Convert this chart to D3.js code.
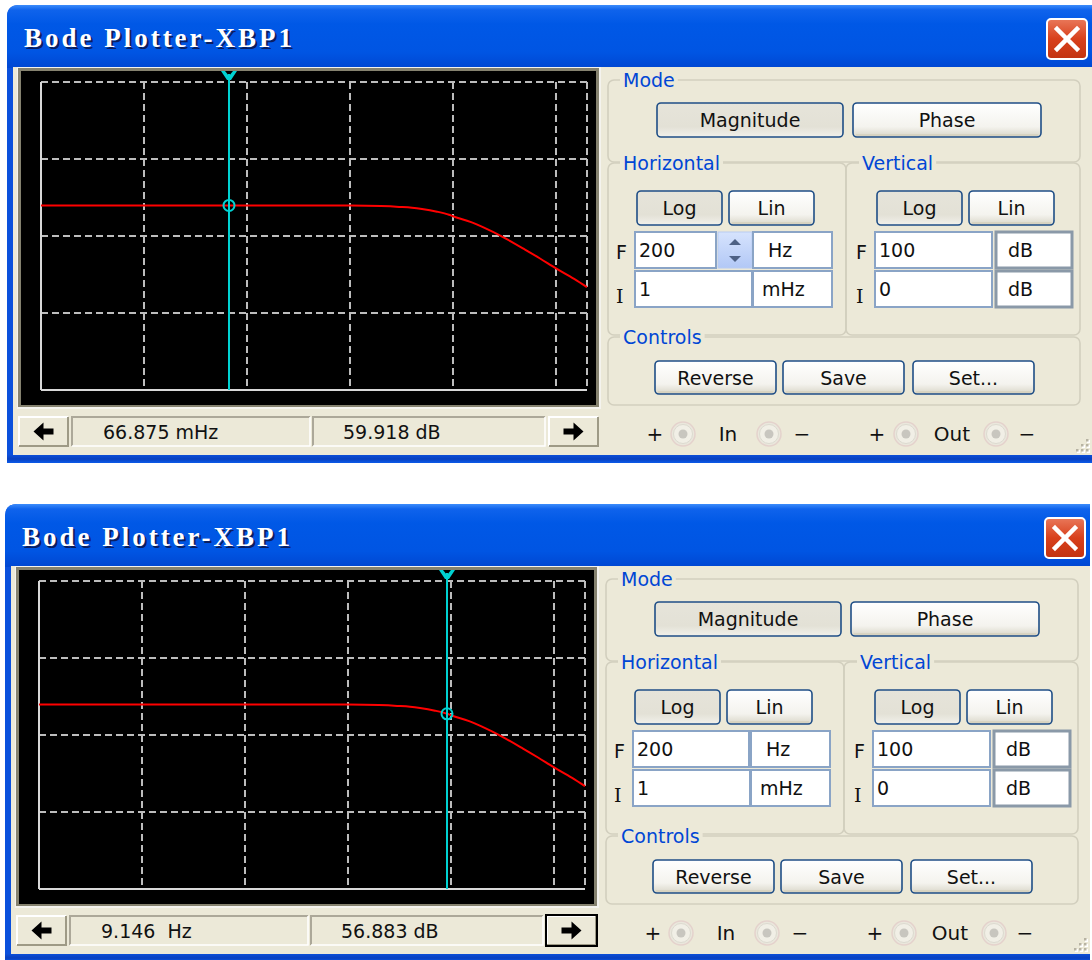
<!DOCTYPE html>
<html>
<head>
<meta charset="utf-8">
<script src="https://cdn.jsdelivr.net/npm/d3@7"></script>
<style>
  html, body { margin: 0; padding: 0; background: #ffffff; }
  svg { display: block; }
</style>
</head>
<body>
<svg id="chart" width="1092" height="960"></svg>
<script>
// ---------------- data ----------------
const titleText = "Bode Plotter-XBP1";
// magnitude response (Hz, dB)
const freqHz = [0.001, 0.01, 0.1, 1, 2, 3, 4, 5, 7, 9.146, 10, 15, 20, 30, 50, 70, 100, 150, 200];
const magDb  = [59.92, 59.92, 59.92, 59.87, 59.7, 59.45, 59.2, 58.8, 57.9, 56.88, 56.4, 54.5, 52.7, 49.8, 45.6, 42.7, 39.5, 36.1, 33.4];
// axis settings
const freqDomain = [0.001, 200];      // I = 1 mHz, F = 200 Hz
const dbDomain = [0, 100];            // I = 0 dB, F = 100 dB
const xGridFreqs = [0.01, 0.1, 1, 10, 100];
const yGridDb = [25, 50, 75];
// the two screenshots: cursor positions and readouts
const cursorFreqs = [0.066875, 9.146];
const cursorDb = [59.918, 56.883];
const readoutFreq = ["66.875 mHz", "9.146  Hz"];
const readoutDb = ["59.918 dB", "56.883 dB"];
const showSpinner = [true, false];
const focusRight = [false, true];
const windowOffsets = [[0, 0], [-2, 499]];
// control labels
const modeLabels = ["Magnitude", "Phase"];
const scaleLabels = ["Log", "Lin"];
const controlLabels = ["Reverse", "Save", "Set..."];
const hInputs = { F: "200", I: "1", Funit: "Hz", Iunit: "mHz" };
const vInputs = { F: "100", I: "0", Funit: "dB", Iunit: "dB" };

// ---------------- drawing ----------------
const svg = d3.select("#chart");
const defs = svg.append("defs");

function grad(id, stops, vertical = true) {
  const g = defs.append("linearGradient").attr("id", id)
    .attr("x1", 0).attr("y1", 0).attr("x2", vertical ? 0 : 1).attr("y2", vertical ? 1 : 0);
  stops.forEach(([o, c]) => g.append("stop").attr("offset", o).attr("stop-color", c));
}
grad("titleGrad", [[0, "#3C8CFB"], [0.08, "#0F63EC"], [0.3, "#0058E6"], [0.75, "#0055E3"], [1, "#0047D2"]]);
grad("btnNormal", [[0, "#FFFFFF"], [0.7, "#F4F3EE"], [1, "#D9D6C8"]]);
grad("btnPressed", [[0, "#E6E4DA"], [0.7, "#E3E1D6"], [1, "#F2F1EB"]]);
grad("closeGrad", [[0, "#E9785A"], [0.5, "#D8401C"], [1, "#C23310"]]);
grad("spinGrad", [[0, "#D6E3FD"], [1, "#B2C8F6"]]);
grad("bottomBlue", [[0, "#0C4FD8"], [0.5, "#0840C0"], [1, "#0B5BEA"]]);

const uiFont = "'DejaVu Sans', Verdana, sans-serif";
const titleFont = "'Liberation Serif', 'DejaVu Serif', serif";

function xpButton(g, x, y, w, h, label, pressed) {
  g.append("rect").attr("x", x).attr("y", y).attr("width", w).attr("height", h)
    .attr("rx", 4).attr("fill", pressed ? "url(#btnPressed)" : "url(#btnNormal)")
    .attr("stroke", "#1F4E86").attr("stroke-width", 1.6);
  if (!pressed) {
    g.append("line").attr("x1", x + 3).attr("x2", x + w - 3).attr("y1", y + h - 2).attr("y2", y + h - 2)
      .attr("stroke", "#D6D0BC").attr("stroke-width", 1.5);
  }
  g.append("text").attr("x", x + w / 2).attr("y", y + h / 2 + 7)
    .attr("text-anchor", "middle").attr("font-family", uiFont).attr("font-size", 19)
    .attr("fill", "#111").text(label);
}

function groupBox(g, x, y, w, h, label, labelX) {
  g.append("rect").attr("x", x).attr("y", y).attr("width", w).attr("height", h)
    .attr("rx", 6).attr("fill", "none").attr("stroke", "#D2CFBE").attr("stroke-width", 1.6);
  const t = g.append("text").attr("x", labelX).attr("y", y + 7)
    .attr("font-family", uiFont).attr("font-size", 19).attr("fill", "#0046D5").text(label);
  const bb = t.node().getBBox();
  g.insert("rect", "text:last-of-type").attr("x", bb.x - 3).attr("y", y - 3)
    .attr("width", bb.width + 6).attr("height", 6).attr("fill", "#ECE9D8");
  t.raise();
}

function inputBox(g, x, y, w, h, text, grayBorder, textDx) {
  g.append("rect").attr("x", x).attr("y", y).attr("width", w).attr("height", h)
    .attr("fill", "#FFFFFF").attr("stroke", grayBorder ? "#8A99A8" : "#8AA4C6")
    .attr("stroke-width", grayBorder ? 3 : 2);
  g.append("text").attr("x", x + textDx).attr("y", y + h / 2 + 7)
    .attr("font-family", uiFont).attr("font-size", 19).attr("fill", "#111").text(text);
}

function radio(g, cx, cy) {
  g.append("circle").attr("cx", cx).attr("cy", cy).attr("r", 12)
    .attr("fill", "#EAE7DC").attr("stroke", "#E4D2CC").attr("stroke-width", 1.5);
  g.append("circle").attr("cx", cx).attr("cy", cy).attr("r", 9.5)
    .attr("fill", "#F1EFE6").attr("stroke", "#DCDAD0").attr("stroke-width", 1);
  g.append("circle").attr("cx", cx).attr("cy", cy).attr("r", 4.5).attr("fill", "#C8C6BF");
}

function arrowButton(g, x, y, w, h, dir, focused) {
  g.append("rect").attr("x", x).attr("y", y).attr("width", w).attr("height", h).attr("fill", "#ECE9D8");
  g.append("path").attr("d", `M${x + 1},${y + h - 1} V${y + 1} H${x + w - 1}`)
    .attr("fill", "none").attr("stroke", "#FFFFFF").attr("stroke-width", 2);
  g.append("path").attr("d", `M${x + 1},${y + h - 1} H${x + w - 1} V${y + 1}`)
    .attr("fill", "none").attr("stroke", "#9E9A86").attr("stroke-width", 2);
  if (focused) {
    g.append("rect").attr("x", x).attr("y", y).attr("width", w).attr("height", h)
      .attr("fill", "none").attr("stroke", "#000").attr("stroke-width", 2);
  }
  const cx = x + w / 2, cy = y + h / 2;
  const s = dir < 0 ? -1 : 1;
  const pts = [[-10, -3], [0, -3], [0, -9], [10, 0], [0, 9], [0, 3], [-10, 3]]
    .map(([px, py]) => [cx + s * px, cy + py]);
  g.append("path").attr("d", "M" + pts.map(p => p.join(",")).join("L") + "Z").attr("fill", "#000");
}

function readoutBox(g, x, y, w, h, text, textX) {
  g.append("rect").attr("x", x).attr("y", y).attr("width", w).attr("height", h).attr("fill", "#ECE9D8");
  g.append("path").attr("d", `M${x + 1},${y + h - 1} V${y + 1} H${x + w - 1}`)
    .attr("fill", "none").attr("stroke", "#ACA899").attr("stroke-width", 2);
  g.append("path").attr("d", `M${x + 1},${y + h - 1} H${x + w - 1} V${y + 1}`)
    .attr("fill", "none").attr("stroke", "#FFFFFF").attr("stroke-width", 1.5);
  g.append("text").attr("x", textX).attr("y", y + h / 2 + 7).attr("xml:space", "preserve")
    .style("white-space", "pre")
    .attr("font-family", uiFont).attr("font-size", 19).attr("fill", "#111").text(text);
}

function drawWindow(i) {
  const [dx, dy] = windowOffsets[i];
  const g = svg.append("g").attr("transform", `translate(${dx},${dy})`);

  // window frame
  g.append("path").attr("d", "M7,463 V17 Q7,5 19,5 H1092 V463 Z").attr("fill", "#0A50DC");
  g.append("path").attr("d", "M7,68 V17 Q7,5 19,5 H1092 V68 Z").attr("fill", "url(#titleGrad)");
  g.append("rect").attr("x", 7).attr("y", 455).attr("width", 1085).attr("height", 8).attr("fill", "url(#bottomBlue)");
  g.append("rect").attr("x", 13).attr("y", 67).attr("width", 1079).attr("height", 388).attr("fill", "#ECE9D8");

  // title (shadow + text)
  g.append("text").attr("x", 26).attr("y", 49).attr("font-family", titleFont)
    .attr("font-weight", "bold").attr("font-size", 27).attr("fill", "#0A1E60")
    .attr("textLength", 268).attr("lengthAdjust", "spacing").text(titleText);
  g.append("text").attr("x", 24).attr("y", 47).attr("font-family", titleFont)
    .attr("font-weight", "bold").attr("font-size", 27).attr("fill", "#FFFFFF")
    .attr("textLength", 268).attr("lengthAdjust", "spacing").text(titleText);

  // close button
  g.append("rect").attr("x", 1047).attr("y", 19).attr("width", 40).attr("height", 40).attr("rx", 4)
    .attr("fill", "url(#closeGrad)").attr("stroke", "#FFFFFF").attr("stroke-width", 2);
  g.append("path").attr("d", "M1057,29 L1077,49 M1077,29 L1057,49")
    .attr("stroke", "#FFFFFF").attr("stroke-width", 4.5).attr("stroke-linecap", "square");

  // plot screen frame
  g.append("rect").attr("x", 17).attr("y", 67).attr("width", 584).attr("height", 342).attr("fill", "#F4F3EE");
  g.append("rect").attr("x", 18).attr("y", 68).attr("width", 581).attr("height", 339).attr("fill", "#85826F");
  g.append("rect").attr("x", 21).attr("y", 71).attr("width", 575).attr("height", 334).attr("fill", "#000000");

  // scales
  const x = d3.scaleLog().domain(freqDomain).range([41, 587]);
  const y = d3.scaleLinear().domain(dbDomain).range([390, 82]);
  const plot = g.append("g");
  const dash = "7,4";
  const gridColor = "#BDBDBD";

  // dashed grid
  plot.selectAll("line.vg").data(xGridFreqs.concat([freqDomain[1]])).join("line")
    .attr("x1", d => x(d)).attr("x2", d => x(d)).attr("y1", y(dbDomain[1])).attr("y2", y(dbDomain[0]))
    .attr("stroke", gridColor).attr("stroke-width", 2).attr("stroke-dasharray", dash);
  plot.selectAll("line.hg").data(yGridDb.concat([dbDomain[1]])).join("line")
    .attr("x1", x(freqDomain[0])).attr("x2", x(freqDomain[1])).attr("y1", d => y(d)).attr("y2", d => y(d))
    .attr("stroke", gridColor).attr("stroke-width", 2).attr("stroke-dasharray", dash);
  // solid left and bottom axis lines
  plot.append("line").attr("x1", x(freqDomain[0])).attr("x2", x(freqDomain[0]))
    .attr("y1", y(dbDomain[1])).attr("y2", y(dbDomain[0])).attr("stroke", "#D8D8D8").attr("stroke-width", 2);
  plot.append("line").attr("x1", x(freqDomain[0])).attr("x2", x(freqDomain[1]))
    .attr("y1", y(dbDomain[0])).attr("y2", y(dbDomain[0])).attr("stroke", "#D8D8D8").attr("stroke-width", 2);

  // magnitude curve
  const pts = freqHz.map((f, k) => [f, magDb[k]]);
  plot.append("path").datum(pts)
    .attr("d", d3.line().x(d => x(d[0])).y(d => y(d[1])).curve(d3.curveMonotoneX))
    .attr("fill", "none").attr("stroke", "#FF0000").attr("stroke-width", 2);

  // cursor
  const cx = x(cursorFreqs[i]);
  plot.append("line").attr("x1", cx).attr("x2", cx).attr("y1", 74).attr("y2", y(dbDomain[0]))
    .attr("stroke", "#00D2D2").attr("stroke-width", 2);
  plot.append("path")
    .attr("d", `M${cx - 8},71 H${cx - 4} L${cx},76 L${cx + 4},71 H${cx + 8} L${cx + 2},80 H${cx - 2} Z`)
    .attr("fill", "#00D2D2");
  plot.append("circle").attr("cx", cx).attr("cy", y(cursorDb[i])).attr("r", 5.5)
    .attr("fill", "none").attr("stroke", "#00D2D2").attr("stroke-width", 2);

  // readout row
  arrowButton(g, 18, 416, 51, 31, -1, false);
  readoutBox(g, 71, 416, 240, 31, readoutFreq[i], 103);
  readoutBox(g, 312, 416, 234, 31, readoutDb[i], 343);
  arrowButton(g, 548, 416, 51, 31, 1, focusRight[i]);

  // Mode group
  groupBox(g, 608, 80, 472, 82, "Mode", 623);
  xpButton(g, 657, 103, 186, 34, modeLabels[0], true);
  xpButton(g, 853, 103, 188, 34, modeLabels[1], false);

  // Horizontal group
  groupBox(g, 608, 163, 238, 172, "Horizontal", 623);
  xpButton(g, 637, 191, 85, 34, scaleLabels[0], true);
  xpButton(g, 729, 191, 85, 34, scaleLabels[1], false);
  // Vertical group
  groupBox(g, 846, 163, 234, 172, "Vertical", 862);
  xpButton(g, 877, 191, 85, 34, scaleLabels[0], true);
  xpButton(g, 969, 191, 85, 34, scaleLabels[1], false);

  // labels F / I
  [[616, 259], [856, 259]].forEach(([lx, ly]) =>
    g.append("text").attr("x", lx).attr("y", ly).attr("font-family", uiFont).attr("font-size", 19).attr("fill", "#111").text("F"));
  [[616, 303], [856, 303]].forEach(([lx, ly]) =>
    g.append("text").attr("x", lx).attr("y", ly).attr("font-family", "'DejaVu Serif', serif").attr("font-size", 19).attr("fill", "#111").text("I"));

  // Horizontal inputs
  if (showSpinner[i]) {
    inputBox(g, 635, 232, 81, 36, hInputs.F, false, 4);
    g.append("rect").attr("x", 718).attr("y", 232).attr("width", 34).attr("height", 36)
      .attr("fill", "url(#spinGrad)").attr("stroke", "#B8CCF2").attr("stroke-width", 1);
    g.append("path").attr("d", "M729,245 L735,239 L741,245 Z").attr("fill", "#4D6185");
    g.append("path").attr("d", "M729,256 L735,262 L741,256 Z").attr("fill", "#4D6185");
  } else {
    inputBox(g, 635, 232, 116, 36, hInputs.F, false, 4);
  }
  inputBox(g, 753, 232, 79, 36, hInputs.Funit, false, 15);
  inputBox(g, 635, 271, 117, 36, hInputs.I, false, 4);
  inputBox(g, 753, 271, 79, 36, hInputs.Iunit, false, 9);
  // Vertical inputs
  inputBox(g, 875, 232, 117, 36, vInputs.F, false, 4);
  inputBox(g, 996, 232, 76, 36, vInputs.Funit, true, 12);
  inputBox(g, 875, 271, 117, 36, vInputs.I, false, 4);
  inputBox(g, 996, 271, 76, 36, vInputs.Iunit, true, 12);

  // Controls group
  groupBox(g, 608, 337, 472, 68, "Controls", 623);
  xpButton(g, 655, 361, 121, 33, controlLabels[0], false);
  xpButton(g, 783, 361, 121, 33, controlLabels[1], false);
  xpButton(g, 913, 361, 121, 33, controlLabels[2], false);

  // terminals row
  const termY = 441;
  [[655, "+"], [728, "In"], [802, "\u2212"], [877, "+"], [952, "Out"], [1027, "\u2212"]].forEach(([tx, t]) =>
    g.append("text").attr("x", tx).attr("y", termY).attr("text-anchor", "middle")
      .attr("font-family", uiFont).attr("font-size", 20).attr("fill", "#111").text(t));
  [683, 769, 906, 996].forEach(rx => radio(g, rx, 434));

  // size grip
  const grip = [[1087, 440], [1082, 445], [1087, 445], [1077, 450], [1082, 450], [1087, 450]];
  grip.forEach(([gx, gy]) => {
    g.append("rect").attr("x", gx).attr("y", gy).attr("width", 3).attr("height", 3).attr("fill", "#FFFFFF");
    g.append("rect").attr("x", gx - 1).attr("y", gy - 1).attr("width", 2.5).attr("height", 2.5).attr("fill", "#B7B3A3");
  });
}

windowOffsets.forEach((_, i) => drawWindow(i));
</script>
</body>
</html>
